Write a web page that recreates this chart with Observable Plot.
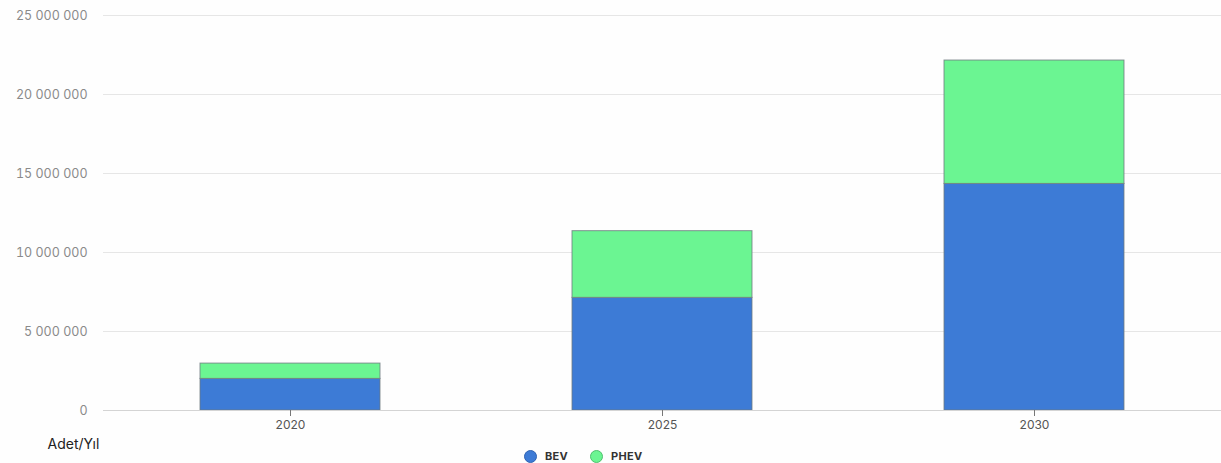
<!DOCTYPE html>
<html>
<head>
<meta charset="utf-8">
<script src="https://cdn.jsdelivr.net/npm/d3@7"></script>
<script src="https://cdn.jsdelivr.net/npm/@observablehq/plot@0.6"></script>
<style>
  html, body { margin: 0; padding: 0; background: #fefefe; font-family: Inter, Roboto, "Noto Sans", sans-serif; }
  #chart svg { display: block; background: #fefefe; }
  .legend { position: relative; height: 9px; }
  .legend .item { position: absolute; top: -5px; display: flex; align-items: center; font-size: 11px; font-weight: 700; color: #333; letter-spacing: 0.3px; }
  .legend .dot { width: 13px; height: 13px; border-radius: 50%; margin-right: 8px; box-sizing: border-box; }
</style>
</head>
<body>
<div id="chart"></div>
<div class="legend" id="legend"></div>
<script>
const years = ["2020", "2025", "2030"];
const bevValues = [2000000, 7130000, 14340000];
const phevValues = [970000, 4220000, 7810000];
const seriesNames = ["BEV", "PHEV"];
const seriesColors = ["#3d7bd6", "#6bf592"];
const yTicks = [0, 5000000, 10000000, 15000000, 20000000, 25000000];
const unitLabel = "Adet/Yıl";

const rows = [];
years.forEach((y, i) => {
  rows.push({year: y, series: seriesNames[0], value: bevValues[i]});
  rows.push({year: y, series: seriesNames[1], value: phevValues[i]});
});

const fmt = v => d3.format(",")(v).replace(/,/g, " ");

const chart = Plot.plot({
  width: 1221,
  height: 454,
  marginTop: 15,
  marginBottom: 44,
  marginLeft: 103,
  marginRight: 0,
  style: {fontFamily: "Inter, Roboto, sans-serif", background: "#fefefe"},
  x: {domain: years, paddingInner: 0.517, paddingOuter: 0.259, label: null},
  y: {domain: [0, 25000000], label: null},
  color: {domain: seriesNames, range: seriesColors},
  marks: [
    Plot.gridY(yTicks, {stroke: "#e6e6e6", strokeOpacity: 1}),
    Plot.barY(rows, Plot.stackY({x: "year", y: "value", fill: "series", order: seriesNames, stroke: "#6f7a80", strokeWidth: 1, strokeOpacity: 0.8})),
    Plot.ruleY([0], {stroke: "#d4d4d4"}),
    Plot.axisY(yTicks, {tickSize: 0, tickPadding: 16, tickFormat: fmt, fontSize: 12.5, fill: "#8a8a8a", label: null}),
    Plot.axisX({tickSize: 6, stroke: "#777", tickPadding: 4, fontSize: 12, fill: "#555", label: null}),
    Plot.text([unitLabel], {frameAnchor: "bottom-left", textAnchor: "start", lineAnchor: "middle", dx: -56, dy: 34, fontSize: 14, fill: "#222"})
  ]
});
document.getElementById("chart").appendChild(chart);

const legend = document.getElementById("legend");
const lefts = [524, 590];
seriesNames.forEach((name, i) => {
  const item = document.createElement("div");
  item.className = "item";
  item.style.left = lefts[i] + "px";
  item.innerHTML = `<span class="dot" style="background:${seriesColors[i]};border:1px solid ${i === 0 ? '#2f63b3' : '#4fc06e'}"></span>${name}`;
  legend.appendChild(item);
});
</script>
</body>
</html>
